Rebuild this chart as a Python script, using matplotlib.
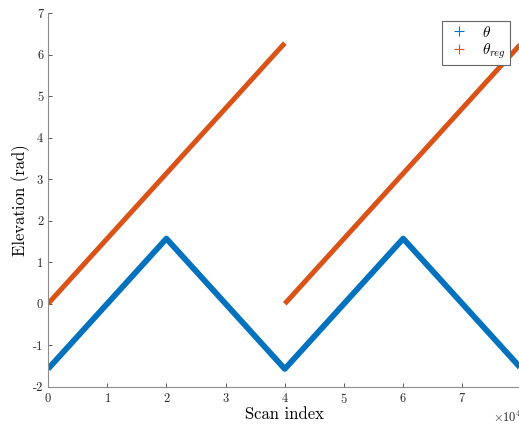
import numpy as np
import matplotlib
matplotlib.use("Agg")
import matplotlib.pyplot as plt
from matplotlib.lines import Line2D

plt.rcParams["mathtext.fontset"] = "cm"
plt.rcParams["font.family"] = "cmr10"
plt.rcParams["axes.unicode_minus"] = False

# scan index of the vertices
theta_x = [0, 20000, 40000, 60000, 80000]
theta_y = [-np.pi / 2, np.pi / 2, -np.pi / 2, np.pi / 2, -np.pi / 2]
reg_x1 = [0, 40000]
reg_y1 = [0, 2 * np.pi]
reg_x2 = [40000, 80000]
reg_y2 = [0, 2 * np.pi]
xticks = [0, 10000, 20000, 30000, 40000, 50000, 60000, 70000]
yticks = [-2, -1, 0, 1, 2, 3, 4, 5, 6, 7]

blue = "#0072BD"
orange = "#D95319"
gray = "#8c8c8c"

fig = plt.figure(figsize=(5.19, 4.25), dpi=100)
ax = fig.add_axes([0.0925, 0.090, 0.9125, 0.8786])

ax.plot(theta_x, theta_y, color=blue, lw=4.2, solid_capstyle="butt")
ax.plot(reg_x1, reg_y1, color=orange, lw=3.6, solid_capstyle="butt")
ax.plot(reg_x2, reg_y2, color=orange, lw=3.6, solid_capstyle="butt")

ax.set_xlim(0, 80000)
ax.set_ylim(-2, 7)
ax.set_xticks(xticks)
ax.set_yticks(yticks)
ax.set_yticklabels([str(v) for v in yticks])
ax.ticklabel_format(axis="x", style="sci", scilimits=(4, 4), useMathText=True)
ax.xaxis.get_offset_text().set_fontsize(9)
ax.xaxis.get_offset_text().set_color("#404040")

for side in ["top", "right"]:
    ax.spines[side].set_visible(False)
for side in ["left", "bottom"]:
    ax.spines[side].set_color(gray)
    ax.spines[side].set_linewidth(0.8)
ax.tick_params(direction="in", length=3, width=0.6, color="#404040",
               labelsize=9, labelcolor="#262626")

ax.set_xlabel("Scan index", fontsize=12, labelpad=1)
ax.set_ylabel("Elevation (rad)", fontsize=12, labelpad=2)

handles = [Line2D([], [], ls="none", marker="+", color=blue, markersize=7, mew=0.8),
           Line2D([], [], ls="none", marker="+", color=orange, markersize=7, mew=0.8)]
leg = ax.legend(handles, [r"$\theta$", r"$\theta_{reg}$"],
                loc="upper right", bbox_to_anchor=(0.983, 0.951),
                bbox_transform=fig.transFigure, borderaxespad=0, fontsize=11,
                fancybox=False, framealpha=1, edgecolor="#666666",
                borderpad=0.25, handletextpad=0.6, labelspacing=0.15,
                handlelength=1.8)
leg.get_frame().set_linewidth(0.8)

fig.savefig("out.png", dpi=100)
